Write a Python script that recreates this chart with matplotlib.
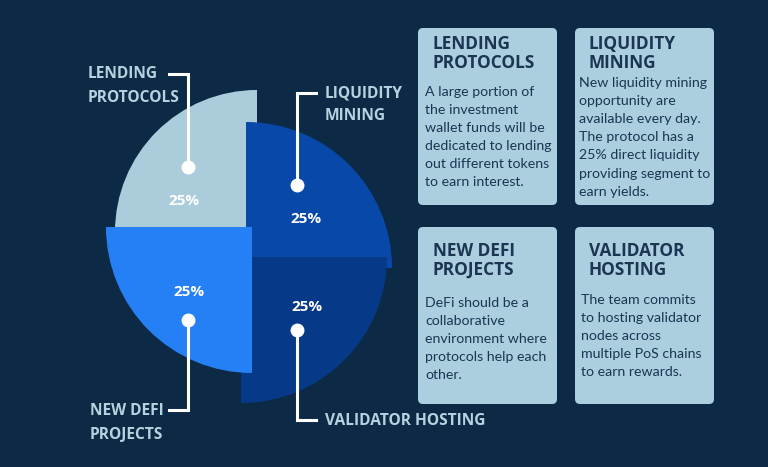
import matplotlib.pyplot as plt
from matplotlib.patches import Wedge, FancyBboxPatch

# data
categories = ["LENDING\nPROTOCOLS", "LIQUIDITY\nMINING", "NEW DEFI\nPROJECTS", "VALIDATOR HOSTING"]
shares = [25, 25, 25, 25]
pct_labels = ["25%", "25%", "25%", "25%"]
box_titles = [["LENDING", "PROTOCOLS"], ["LIQUIDITY", "MINING"],
              ["NEW DEFI", "PROJECTS"], ["VALIDATOR", "HOSTING"]]
box_texts = [
    ["A large portion of", "the investment", "wallet funds will be",
     "dedicated to lending", "out different tokens", "to earn interest."],
    ["New liquidity mining", "opportunity are", "available every day.",
     "The protocol has a", "25% direct liquidity", "providing segment to",
     "earn yields."],
    ["DeFi should be a", "collaborative", "environment where",
     "protocols help each", "other."],
    ["The team commits", "to hosting validator", "nodes across",
     "multiple PoS chains", "to earn rewards."],
]

BG = "#0c2a46"
slice_colors = ["#abcddb", "#0848a8", "#2680f5", "#063a88"]
# screen angle where each slice starts (ccw, degrees); span comes from shares
start_deg = [90, 0, 180, 270]
centers = [(257, 232), (246, 268), (252, 227), (241, 257)]
radii = [142, 146, 146, 146]
draw_order = [0, 1, 3, 2]
pct_pos = [(184, 201), (306, 219), (189, 292), (307, 307)]

fig = plt.figure(figsize=(7.68, 4.67), dpi=100, facecolor=BG)
ax = fig.add_axes([0, 0, 1, 1])
ax.set_facecolor(BG)
ax.set_xlim(0, 768)
ax.set_ylim(467, 0)
ax.axis('off')

for i in draw_order:
    span = shares[i] / sum(shares) * 360
    a1 = start_deg[i]
    a2 = a1 + span
    # y axis is inverted, so screen angles are negated
    ax.add_patch(Wedge(centers[i], radii[i], -a2, -a1, facecolor=slice_colors[i],
                       edgecolor='none', zorder=2))

for i, (x, y) in enumerate(pct_pos):
    ax.text(x, y, pct_labels[i], color='white', fontsize=11, fontweight='bold',
            family='Open Sans', ha='center', va='center', zorder=5)

# leader lines
lab_col = "#b7d2df"
leaders = [
    [(188, 167), (188, 74), (169, 74)],
    [(297, 185), (297, 93), (316, 93)],
    [(188, 320), (188, 410), (169, 410)],
    [(297, 330), (297, 420), (316, 420)],
]
for pts in leaders:
    xs = [p[0] for p in pts]
    ys = [p[1] for p in pts]
    ax.plot(xs, ys, color='white', lw=2.2, zorder=4, solid_joinstyle='miter')
    ax.plot(xs[0], ys[0], 'o', color='white', ms=9, zorder=4)

label_pos = [(88, 74), (325, 93), (90, 411), (325, 421)]
for i, (x, y) in enumerate(label_pos):
    for j, line in enumerate(categories[i].split("\n")):
        ax.text(x, y + j * 23.5, line, color=lab_col, fontsize=11.2, fontweight='bold',
                family='Open Sans', ha='left', va='center', zorder=5)

# text boxes
box_col = "#abcfde"
txt_col = "#1b3553"
boxes = [(418, 28), (575, 28), (418, 227), (575, 227)]
bw, bh = 139, 177
title_x = [433, 589, 433, 589]
title_y = [49, 49, 256, 256]
body_x = [425, 579, 425, 581]
body_y = [96, 87, 307, 304]
for k, (x0, y0) in enumerate(boxes):
    ax.add_patch(FancyBboxPatch((x0, y0), bw, bh,
                                boxstyle="round,pad=0,rounding_size=5",
                                facecolor=box_col, edgecolor='none', zorder=2))
    for j, line in enumerate(box_titles[k]):
        ax.text(title_x[k], title_y[k] + j * 19, line, color=txt_col, fontsize=12.4,
                fontweight='bold', family='Open Sans', va='baseline', zorder=3)
    for j, line in enumerate(box_texts[k]):
        ax.text(body_x[k], body_y[k] + j * 18.1, line, color=txt_col, fontsize=10.2,
                family='Lato', va='baseline', zorder=3)

fig.savefig("out.png", dpi=100, facecolor=BG)
